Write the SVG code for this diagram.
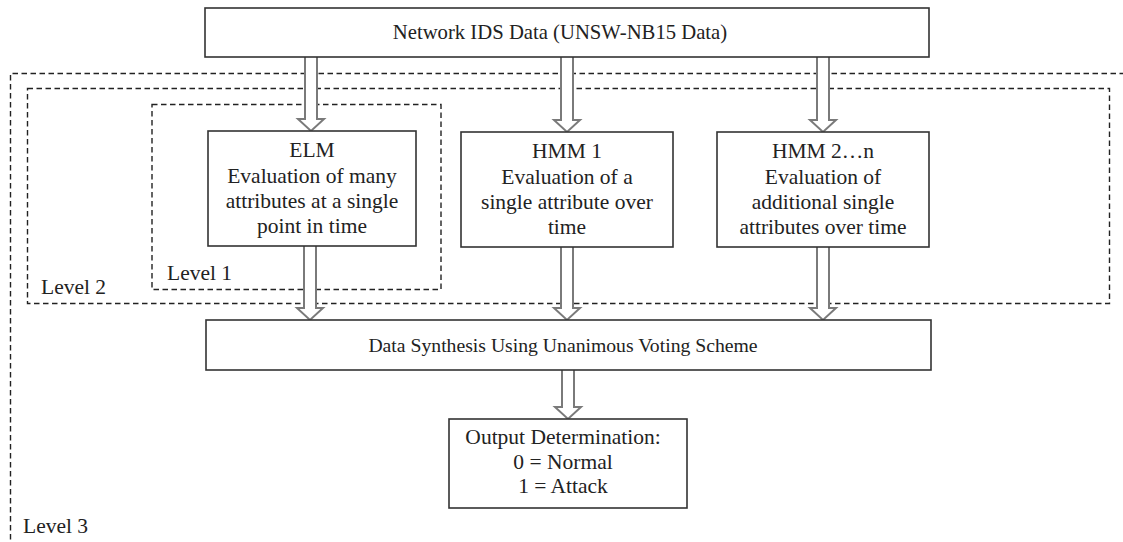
<svg xmlns="http://www.w3.org/2000/svg" width="1123" height="542" viewBox="0 0 1123 542">
<style>
.box{fill:#fff;stroke:#333;stroke-width:1.6}
.dash{fill:none;stroke:#222;stroke-width:1.4;stroke-dasharray:5.5 3.5}
.t{font-family:"Liberation Serif","Times New Roman",serif;font-size:21.5px;fill:#222;text-anchor:middle}
.lbl{font-family:"Liberation Serif","Times New Roman",serif;font-size:21.5px;fill:#222}
.arr{fill:#fff;stroke:#7a7a7a;stroke-width:2;stroke-linejoin:miter}
</style>
<rect width="1123" height="542" fill="#fff"/>
<g id="level3">
<path class="dash" d="M1125,73.5 H10.5 V545"/>
<text class="lbl" x="23" y="533">Level 3</text>
</g>
<g id="level2">
<rect class="dash" x="27.5" y="88.5" width="1082" height="215"/>
<text class="lbl" x="41" y="294">Level 2</text>
</g>
<g id="level1">
<rect class="dash" x="152" y="104.5" width="289" height="185"/>
<text class="lbl" x="167" y="280">Level 1</text>
</g>
<g id="connectors">
<path class="arr" d="M305,57 V119 H298 L311,131 L324,119 H317 V57"/>
<path class="arr" d="M561,57 V120 H554 L567,132 L580,120 H573 V57"/>
<path class="arr" d="M817,57 V120 H810 L823,132 L836,120 H829 V57"/>
<path class="arr" d="M304,246 V308 H297 L310,320 L323,308 H316 V246"/>
<path class="arr" d="M561,247 V308 H554 L567,320 L580,308 H573 V247"/>
<path class="arr" d="M817,247 V308 H810 L823,320 L836,308 H829 V247"/>
<path class="arr" d="M562,370 V407 H555 L568,419 L581,407 H574 V370"/>
</g>
<g id="source">
<rect class="box" x="205" y="8" width="724" height="49"/>
<text class="t" x="560" y="39" style="font-size:20.7px">Network IDS Data (UNSW-NB15 Data)</text>
</g>
<g id="elm">
<rect class="box" x="208" y="131" width="208" height="115"/>
<text class="t" x="312" y="157">ELM</text>
<text class="t" x="312" y="182.5">Evaluation of many</text>
<text class="t" x="312" y="208">attributes at a single</text>
<text class="t" x="312" y="233">point in time</text>
</g>
<g id="hmm1">
<rect class="box" x="461" y="132" width="212" height="115"/>
<text class="t" x="567" y="158">HMM 1</text>
<text class="t" x="567" y="183.5">Evaluation of a</text>
<text class="t" x="567" y="209">single attribute over</text>
<text class="t" x="567" y="234">time</text>
</g>
<g id="hmm2">
<rect class="box" x="717" y="132" width="212" height="115"/>
<text class="t" x="823" y="158">HMM 2…n</text>
<text class="t" x="823" y="183.5">Evaluation of</text>
<text class="t" x="823" y="209">additional single</text>
<text class="t" x="823" y="234">attributes over time</text>
</g>
<g id="synthesis">
<rect class="box" x="206" y="320" width="725" height="50"/>
<text class="t" x="563" y="352" style="font-size:19.7px">Data Synthesis Using Unanimous Voting Scheme</text>
</g>
<g id="output">
<rect class="box" x="449" y="419" width="238" height="89"/>
<text class="t" x="563" y="444">Output Determination:</text>
<text class="t" x="563" y="469">0 = Normal</text>
<text class="t" x="563" y="493">1 = Attack</text>
</g>
</svg>
